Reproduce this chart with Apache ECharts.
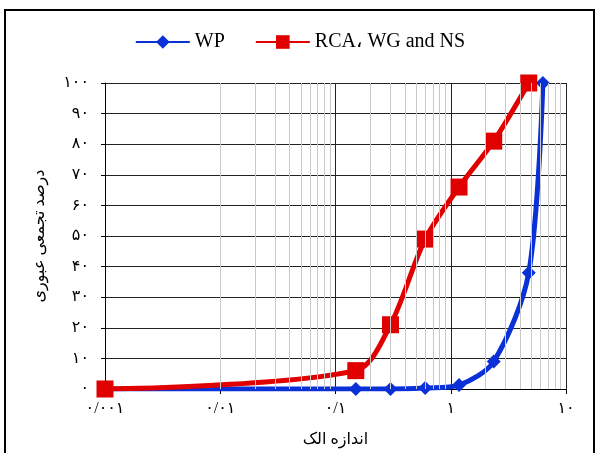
<!DOCTYPE html>
<html><head><meta charset="utf-8">
<script src="https://cdn.jsdelivr.net/npm/echarts@6/dist/echarts.min.js"></script>
<style>html,body{margin:0;padding:0;background:#fff}#c{width:600px;height:453px}</style>
</head><body><div id="c"></div>
<script>
// Data
const sieveWP = [0.001, 0.15, 0.3, 0.6, 1.18, 2.36, 4.75, 6.3];
const passWP = [0, 0, 0, 0.3, 1.3, 9, 38, 100];
const sieveRCA = [0.001, 0.15, 0.3, 0.6, 1.18, 2.36, 4.75];
const passRCA = [0, 6, 21, 49, 66, 81, 100];
const seriesNames = ['WP', 'RCA، WG and NS'];
const xTickLabels = ['۰/۰۰۱', '۰/۰۱', '۰/۱', '۱', '۱۰'];
const xName = 'اندازه الک';
const yName = 'درصد تجمعی عبوری';
const decades = [0.001, 0.01, 0.1, 1];
const minorMultipliers = [2, 3, 4, 5, 6, 7, 8, 9];

const fa = s => String(s).replace(/[0-9]/g, d => '۰۱۲۳۴۵۶۷۸۹'[+d]);
const minorLines = [];
decades.forEach(d => minorMultipliers.forEach(m => minorLines.push({xAxis: +(d * m).toPrecision(3)})));

const font = '"Liberation Serif", "DejaVu Sans", serif';
const chart = echarts.init(document.getElementById('c'));
chart.setOption({
  animation: false,
  graphic: [{type: 'rect', shape: {x: 5, y: 10, width: 589, height: 460}, style: {fill: 'none', stroke: '#000', lineWidth: 2}, z: 100}],
  legend: {
    data: seriesNames, top: 27, left: 'center', itemWidth: 54, itemHeight: 17, itemGap: 30,
    textStyle: {fontFamily: font, fontSize: 20, color: '#000'}
  },
  grid: {left: 105, right: 34, top: 83, bottom: 57},
  xAxis: {
    type: 'log', min: 0.001, max: 10, logBase: 10,
    name: xName, nameLocation: 'middle', nameGap: 43,
    nameTextStyle: {fontFamily: font, fontSize: 16, color: '#000'},
    axisLine: {show: true, lineStyle: {color: '#000', width: 1}},
    axisTick: {show: true, length: 5, lineStyle: {color: '#000'}},
    axisLabel: {
      fontFamily: font, fontSize: 16, color: '#000', margin: 12,
      formatter: v => xTickLabels[Math.round(Math.log10(v)) + 3]
    },
    splitLine: {show: true, lineStyle: {color: '#222', width: 1}}
  },
  yAxis: {
    type: 'value', min: 0, max: 100, interval: 10,
    name: yName, nameLocation: 'middle', nameGap: 57, nameRotate: 90,
    nameTextStyle: {fontFamily: font, fontSize: 16, color: '#000'},
    axisLine: {show: true, lineStyle: {color: '#000', width: 1}},
    axisTick: {show: true, length: 4, lineStyle: {color: '#000'}},
    axisLabel: {fontFamily: font, fontSize: 16, color: '#000', margin: 16, formatter: v => fa(v)},
    splitLine: {show: true, lineStyle: {color: '#222', width: 1}}
  },
  series: [
    {
      name: '_minor', type: 'line', data: [], z: 1, silent: true,
      markLine: {silent: true, symbol: 'none', label: {show: false},
        lineStyle: {color: '#c8c8c8', type: 'solid', width: 1}, data: minorLines, animation: false}
    },
    {
      name: seriesNames[0], type: 'line', smooth: 0.3, z: 3,
      data: sieveWP.map((x, i) => [x, passWP[i]]),
      symbol: 'diamond', symbolSize: 14,
      lineStyle: {color: '#0a30d8', width: 5},
      itemStyle: {color: '#0a30d8'}
    },
    {
      name: seriesNames[1], type: 'line', smooth: 0.3, z: 4,
      data: sieveRCA.map((x, i) => [x, passRCA[i]]),
      symbol: 'rect', symbolSize: 17,
      lineStyle: {color: '#e00000', width: 5},
      itemStyle: {color: '#e00000'}
    }
  ]
});
</script></body></html>
